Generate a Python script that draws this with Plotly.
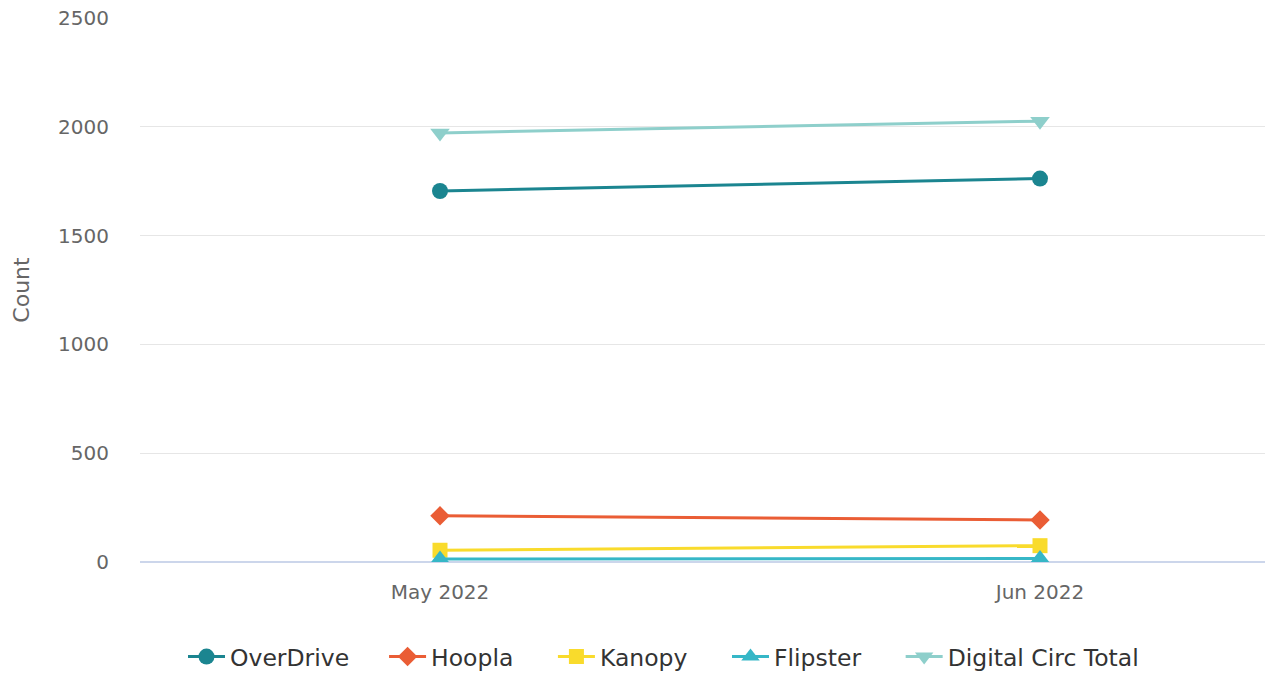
import plotly.graph_objects as go

months = ["May 2022", "Jun 2022"]
overdrive = [1705, 1762]
hoopla = [212, 193]
kanopy = [54, 75]
flipster = [14, 16]
digital_total = [1972, 2026]

NB = "\u00a0"
TH = "\u2009"
series = [
    ("OverDrive", overdrive, "#1b8590", "circle", 16, NB * 4),
    ("Hoopla", hoopla, "#ea5d35", "diamond", 15, NB * 4 + TH),
    ("Kanopy", kanopy, "#f9db2c", "square", 15, NB * 4 + TH),
    ("Flipster", flipster, "#36b7c7", "triangle-up", 17, NB * 4 + TH),
    ("Digital Circ Total", digital_total, "#8ecfcb", "triangle-down", 17, ""),
]

x_idx = list(range(len(months)))
fig = go.Figure()
for name, vals, color, sym, msize, pad in series:
    fig.add_trace(go.Scatter(
        x=x_idx, y=vals, name=name + pad, mode="lines+markers",
        line=dict(color=color, width=3),
        marker=dict(color=color, symbol=sym, size=msize, line=dict(width=0)),
    ))

fig.update_layout(
    width=1269, height=675,
    margin=dict(l=140, r=4, t=18, b=113),
    plot_bgcolor="white", paper_bgcolor="white",
    font=dict(family="DejaVu Sans", color="#666666", size=19),
    showlegend=True,
    legend=dict(orientation="h", xref="container", x=183 / 1269, xanchor="left",
                yref="container", y=0.027, yanchor="middle",
                font=dict(size=23.5, color="#333333"), itemwidth=37, tracegroupgap=0),
    xaxis=dict(
        range=[-0.5, 1.375], tickvals=x_idx, ticktext=months, showgrid=False,
        zeroline=False, showline=False, ticks="", tickfont=dict(size=20, color="#666666"),
        ticklabelstandoff=16,
    ),
    yaxis=dict(
        range=[0, 2500], dtick=500, showgrid=True, gridcolor="#e6e6e6", gridwidth=1,
        zeroline=True, zerolinecolor="#ccd6eb", zerolinewidth=2, showline=False,
        tickfont=dict(size=20, color="#666666"), ticklabelstandoff=30,
        title=dict(text="Count", font=dict(size=22, color="#666666"), standoff=22),
    ),
)

fig.write_html("out.html")
